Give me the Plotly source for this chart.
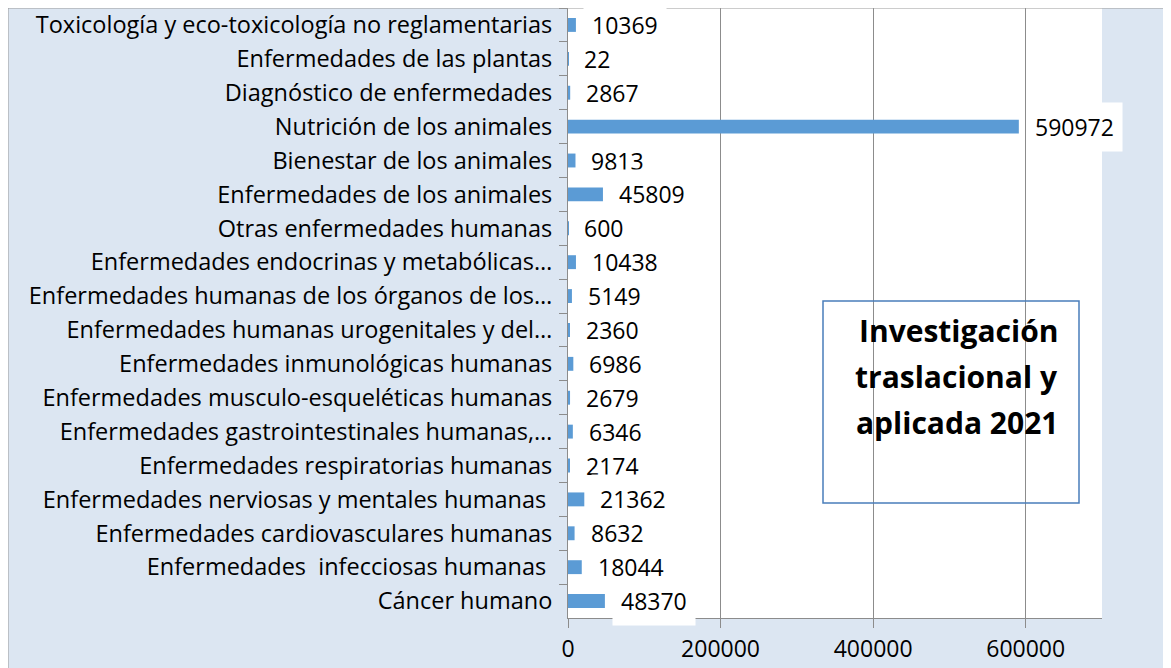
import plotly.graph_objects as go

categories = [
    "Toxicología y eco-toxicología no reglamentarias",
    "Enfermedades de las plantas",
    "Diagnóstico de enfermedades",
    "Nutrición de los animales",
    "Bienestar de los animales",
    "Enfermedades de los animales",
    "Otras enfermedades humanas",
    "Enfermedades endocrinas y metabólicas…",
    "Enfermedades humanas de los órganos de los…",
    "Enfermedades humanas urogenitales y del…",
    "Enfermedades inmunológicas humanas",
    "Enfermedades musculo-esqueléticas humanas",
    "Enfermedades gastrointestinales humanas,…",
    "Enfermedades respiratorias humanas",
    "Enfermedades nerviosas y mentales humanas ",
    "Enfermedades cardiovasculares humanas",
    "Enfermedades  infecciosas humanas ",
    "Cáncer humano",
]
values = [10369, 22, 2867, 590972, 9813, 45809, 600, 10438, 5149, 2360,
          6986, 2679, 6346, 2174, 21362, 8632, 18044, 48370]
x_ticks = [0, 200000, 400000, 600000]
x_tick_labels = ["0", "200000", "400000", "600000"]
title_lines = ["Investigación", "traslacional y", "aplicada 2021"]

FONT = "Open Sans"
BAR = "#5B9BD5"
BG = "#DCE6F2"
GRID = "#8C8C8C"

OFF = 8  # page body margin
W, H = 1171, 668
# plot area in screen pixels
SL, SR, ST, SB = 568, 1102, 8, 618
L, T = SL - OFF, ST - OFF
R, B = W - (SR - OFF), H - (SB - OFF)
pw, ph = W - L - R, H - T - B

def px_x(p):  # screen px -> paper
    return (p - OFF - L) / pw

def px_y(p):
    return (H - B - (p - OFF)) / ph

fig = go.Figure(go.Bar(
    x=values, y=categories, orientation="h",
    marker=dict(color=BAR, line=dict(width=0)),
    hoverinfo="x+y",
))

annotations = []
for c, v in zip(categories, values):
    annotations.append(dict(
        x=v, y=c, xref="x", yref="y", text=str(v), showarrow=False,
        xanchor="left", yanchor="middle", xshift=7,
        bgcolor="white", borderpad=8,
        font=dict(family=FONT, size=23, color="black"),
    ))

baselines = [345, 391, 437]
for line, bl in zip(title_lines, baselines):
    annotations.append(dict(
        x=px_x(1060), y=px_y(bl + 8), xref="paper", yref="paper",
        text="<b>" + line + "</b>", showarrow=False,
        xanchor="right", yanchor="bottom",
        font=dict(family=FONT, size=30, color="black"),
    ))

shapes = [
    # outer chart border (top and left edges)
    dict(type="line", xref="paper", yref="paper", layer="above",
         x0=px_x(7.5), x1=px_x(W + 40), y0=px_y(7.75), y1=px_y(7.75),
         line=dict(color="#9A9A9A", width=1.5)),
    dict(type="line", xref="paper", yref="paper", layer="above",
         x0=px_x(7.75), x1=px_x(7.75), y0=px_y(7.5), y1=px_y(H + 40),
         line=dict(color="#9A9A9A", width=1.5)),
    # title text box
    dict(type="rect", xref="paper", yref="paper", layer="above",
         x0=px_x(823), x1=px_x(1079), y0=px_y(503), y1=px_y(301),
         fillcolor="rgba(0,0,0,0)", line=dict(color="#4A7EBB", width=1.5)),
]

fig.update_layout(
    width=W, height=H,
    margin=dict(l=L, r=R, t=T, b=B, pad=0, autoexpand=False),
    paper_bgcolor=BG, plot_bgcolor="white",
    showlegend=False, bargap=0.59,
    font=dict(family=FONT, size=22, color="black"),
    annotations=annotations, shapes=shapes,
    xaxis=dict(
        range=[0, 700000], autorange=False, tickvals=x_ticks, ticktext=x_tick_labels,
        showgrid=True, gridcolor=GRID, gridwidth=1,
        showline=True, linecolor=GRID, linewidth=1,
        ticks="outside", ticklen=9, tickcolor=GRID,
        ticklabelstandoff=1, zeroline=False, automargin=False,
        tickfont=dict(family=FONT, size=23, color="black"),
    ),
    yaxis=dict(
        range=[len(categories) - 0.5, -0.5], autorange=False,
        type="category", automargin=False,
        showgrid=False, showline=True, linecolor=GRID, linewidth=1,
        ticks="outside", ticklen=8, tickcolor=GRID, tickson="boundaries",
        ticklabelstandoff=10,
        tickfont=dict(family=FONT, size=23.5, color="black"),
    ),
)

fig.write_html("out.html")
